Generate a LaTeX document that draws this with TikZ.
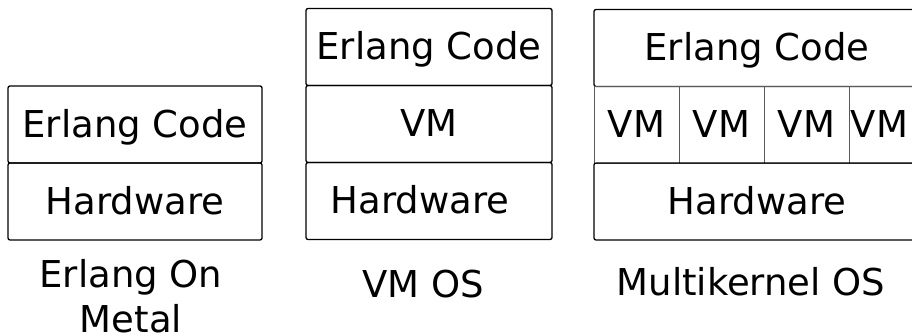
\documentclass[tikz,border=0pt]{standalone}
\usepackage{fontspec}
\setmainfont{DejaVu Sans}
\begin{document}
\begin{tikzpicture}[x=1pt,y=-1pt,
  txt/.style={font=\fontsize{37}{45}\selectfont},
  layer/.style={txt, draw=black, line width=1.3pt, rounded corners=2pt,
    minimum width=#1, minimum height=77pt, inner sep=0pt,
    text height=27pt, text depth=1pt},
  vmcell/.style={txt, draw=black!65, line width=0.8pt,
    minimum width=85pt, minimum height=77pt, inner sep=0pt,
    text height=27pt, text depth=1pt},
  caption/.style={txt, inner sep=0pt, align=center}]
\clip (0,0) rectangle (912,336);

% Erlang on metal
\node[layer=254pt] (m1code) at (135,124.5) {Erlang Code};
\node[layer=254pt] (m1hw)   at (135,201.5) {Hardware};
\node[caption, anchor=north] (m1cap) at (131,259) {Erlang On\\Metal};

% VM OS
\node[layer=246pt] (m2code) at (429,47) {Erlang Code};
\node[layer=246pt] (m2vm)   at (429,124) {VM};
\node[layer=246pt, label={[txt, xshift=-9pt, text height=27pt, text depth=1pt, inner sep=0pt]center:Hardware}] (m2hw) at (429,201) {};
\node[caption, anchor=base] (m2cap) at (423,298) {VM OS};

% Multikernel OS
\node[layer=326pt] (m3code) at (757,48) {Erlang Code};
\node[vmcell] (vm1) at (636.5,124.5) {VM};
\node[vmcell] (vm2) at (721.5,124.5) {VM};
\node[vmcell] (vm3) at (806.5,124.5) {VM};
\node[vmcell, label={[txt, xshift=-12pt, text height=27pt, text depth=1pt, inner sep=0pt]center:VM}] (vm4) at (891.5,124.5) {};
\node[layer=326pt] (m3hw) at (757,201.5) {Hardware};
\node[caption, anchor=base] (m3cap) at (751,295) {Multikernel OS};
\end{tikzpicture}
\end{document}
